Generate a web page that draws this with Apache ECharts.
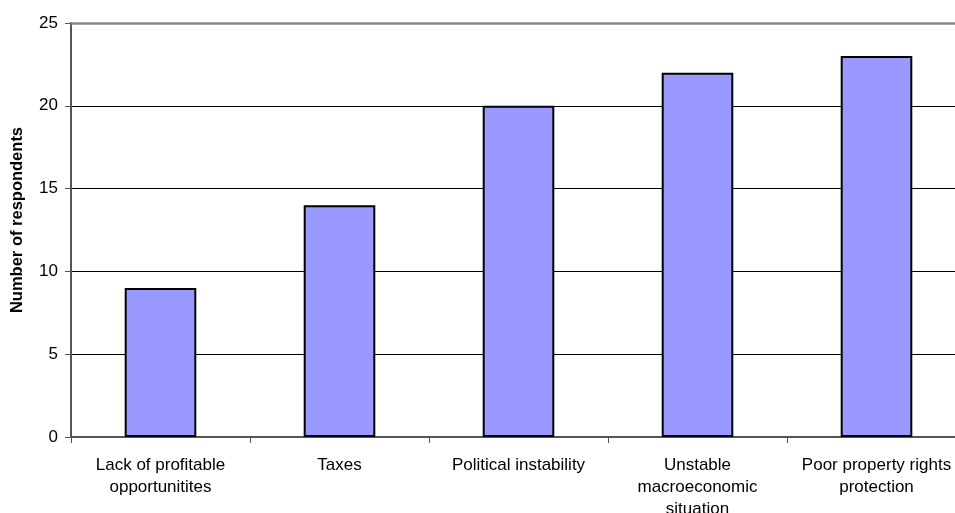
<!DOCTYPE html>
<html>
<head>
<meta charset="utf-8">
<script src="https://cdn.jsdelivr.net/npm/echarts@6/dist/echarts.min.js"></script>
<style>
  html, body { margin: 0; padding: 0; background: #fff; }
  #chart { width: 955px; height: 513px; }
</style>
</head>
<body>
<div id="chart"></div>
<script>
// Obstacles cited by respondents
const categories = [
  'Lack of profitable\nopportunitites',
  'Taxes',
  'Political instability',
  'Unstable\nmacroeconomic\nsituation',
  'Poor property rights\nprotection'
];
const respondents = [9, 14, 20, 22, 23];
const yTicks = { min: 0, max: 25, interval: 5 };

const chart = echarts.init(document.getElementById('chart'));
const font = 'Liberation Sans, Arial, sans-serif';

chart.setOption({
  animation: false,
  grid: {
    left: 71, top: 23, width: 895, height: 414,
    containLabel: false, outerBoundsMode: 'none'
  },
  xAxis: {
    type: 'category',
    data: categories,
    axisLine: { lineStyle: { color: '#555', width: 2 } },
    axisTick: { show: true, length: 6, lineStyle: { color: '#555', width: 1 } },
    axisLabel: {
      interval: 0, color: '#000', fontFamily: font, fontSize: 17,
      lineHeight: 22, margin: 17
    }
  },
  yAxis: {
    type: 'value',
    min: yTicks.min, max: yTicks.max, interval: yTicks.interval,
    name: 'Number of respondents',
    nameLocation: 'middle',
    nameGap: 45,
    nameTextStyle: {
      fontFamily: font, fontSize: 16.5, fontWeight: 'bold', color: '#000',
      padding: [0, 0, 0, 20]
    },
    axisLine: { show: true, lineStyle: { color: '#555', width: 2 } },
    axisTick: { show: true, length: 6, lineStyle: { color: '#555' } },
    axisLabel: { color: '#000', fontFamily: font, fontSize: 17, margin: 13 },
    splitLine: { show: true, lineStyle: { color: ['#000', '#000', '#000', '#000', '#000', 'rgba(0,0,0,0)'], width: 1 } }
  },
  series: [{
    type: 'bar',
    data: respondents,
    barWidth: '40%',
    itemStyle: { color: '#9999FF', borderColor: '#000', borderWidth: 2 },
    markLine: {
      silent: true,
      symbol: 'none',
      label: { show: false },
      lineStyle: { color: '#888', width: 2.5, type: 'solid' },
      data: [{ yAxis: yTicks.max }]
    }
  }]
});
</script>
</body>
</html>
